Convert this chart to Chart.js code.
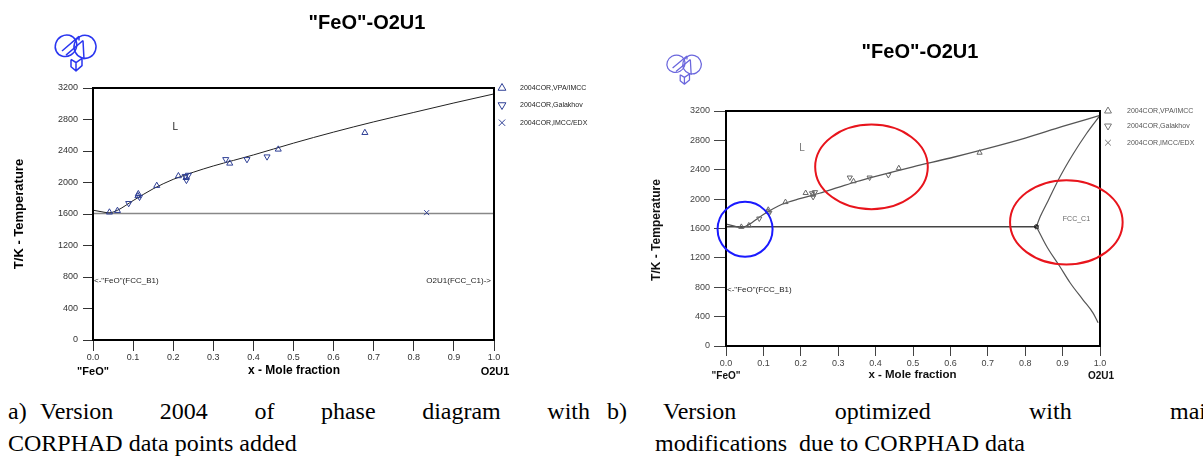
<!DOCTYPE html>
<html>
<head>
<meta charset="utf-8">
<script src="https://cdn.jsdelivr.net/npm/chart.js@4.4.1/dist/chart.umd.min.js"></script>
<style>
  html, body { margin: 0; padding: 0; background: #fff; }
  body { width: 1203px; height: 471px; position: relative; overflow: hidden; }
  canvas { position: absolute; top: 0; }
  #chartA { left: 0; }
  #chartB { left: 600px; }
  .cap {
    position: absolute;
    font-family: 'Liberation Serif', 'Times New Roman', serif;
    font-size: 24px;
    line-height: 32px;
    color: #000;
    white-space: nowrap;
  }
  .just { text-align: justify; text-align-last: justify; white-space: normal; }
</style>
</head>
<body>
<canvas id="chartA" width="600" height="392"></canvas>
<canvas id="chartB" width="603" height="392"></canvas>

<div class="cap" style="left:8px;top:395px">a)</div>
<div class="cap just" style="left:40px;top:395px;width:550px">Version 2004 of phase diagram with</div>
<div class="cap" style="left:8px;top:427px">CORPHAD data points added</div>
<div class="cap" style="left:607px;top:395px">b)</div>
<div class="cap just" style="left:663px;top:395px;width:555px">Version optimized with main</div>
<div class="cap" style="left:655px;top:427px">modifications&nbsp; due to CORPHAD data</div>

<script>
/* ===============================
   DATA
================================ */
const xTickVals = [0, 0.1, 0.2, 0.3, 0.4, 0.5, 0.6, 0.7, 0.8, 0.9, 1.0];
const yTickVals = [0, 400, 800, 1200, 1600, 2000, 2400, 2800, 3200];

const legendNames = ['2004COR,VPA/IMCC', '2004COR,Galakhov', '2004COR,IMCC/EDX'];

// experimental points (same in both versions)
const vpaX = [0.041, 0.061, 0.112, 0.113, 0.159, 0.213, 0.232, 0.341, 0.462, 0.678];
const vpaT = [1622, 1642, 1830, 1855, 1960, 2083, 2060, 2243, 2421, 2632];

const galX = [0.089, 0.116, 0.230, 0.233, 0.238, 0.331, 0.384, 0.434];
const galT = [1736, 1815, 2080, 2030, 2095, 2294, 2294, 2328];

const edxX = [0.832];
const edxT = [1617];

// a) 2004 calculated liquidus and horizontal invariant
const liqAX = [0, 0.02, 0.04, 0.06, 0.1, 0.15, 0.2, 0.25, 0.3, 0.35, 0.4, 0.5, 0.6, 0.7, 0.8, 0.9, 1.0];
const liqAT = [1648, 1630, 1615, 1645, 1770, 1920, 2040, 2130, 2210, 2280, 2350, 2500, 2640, 2770, 2890, 3010, 3125];
const invAX = [0, 1.0];
const invAT = [1605, 1605];

// b) optimized liquidus, invariant and FCC_C1 boundaries
const liqBX = [0, 0.02, 0.043, 0.06, 0.1, 0.15, 0.2, 0.25, 0.3, 0.35, 0.4, 0.5, 0.6, 0.7, 0.8, 0.9, 1.0];
const liqBT = [1660, 1635, 1612, 1650, 1790, 1930, 2010, 2080, 2160, 2240, 2310, 2440, 2560, 2690, 2830, 2990, 3140];
const invBX = [0, 0.83];
const invBT = [1625, 1625];
const fccUpX = [0.83, 0.840, 0.862, 0.893, 0.929, 0.964, 1.0];
const fccUpT = [1625, 1759, 1986, 2304, 2621, 2894, 3140];
const fccLoX = [0.83, 0.858, 0.893, 0.920, 0.955, 0.982, 0.995];
const fccLoT = [1625, 1351, 1079, 861, 626, 445, 317];

/* ===============================
   HELPERS
================================ */
const pts = (xs, ys) => xs.map((x, i) => ({ x: x, y: ys[i] }));

function drawLogo(ctx, x, y, w, h, color) {
    ctx.save();
    ctx.translate(x, y);
    ctx.scale(w / 45, h / 40);
    ctx.strokeStyle = color;
    ctx.lineWidth = 1.5;
    ctx.lineJoin = 'round';
    // left loop
    ctx.beginPath();
    ctx.ellipse(13, 15, 11, 10, -0.5, 0, Math.PI * 2);
    ctx.stroke();
    // right loop
    ctx.beginPath();
    ctx.ellipse(32, 16, 11, 11, 0.3, 0, Math.PI * 2);
    ctx.stroke();
    // diagonal band
    ctx.beginPath();
    ctx.moveTo(9, 20); ctx.lineTo(26, 6);
    ctx.moveTo(13, 24); ctx.lineTo(30, 10);
    ctx.moveTo(30, 10); ctx.lineTo(31, 28);
    ctx.moveTo(26, 6); ctx.lineTo(26, 10);
    ctx.stroke();
    // small box at the bottom
    ctx.beginPath();
    ctx.moveTo(18, 28); ctx.lineTo(18, 35); ctx.lineTo(23, 39); ctx.lineTo(29, 34);
    ctx.lineTo(29, 27); ctx.lineTo(23, 31); ctx.lineTo(18, 28);
    ctx.moveTo(23, 31); ctx.lineTo(23, 39);
    ctx.stroke();
    ctx.restore();
}

function text(ctx, str, x, y, font, color, align, rot) {
    ctx.save();
    ctx.font = font;
    ctx.fillStyle = color;
    ctx.textAlign = align || 'center';
    ctx.textBaseline = 'middle';
    ctx.translate(x, y);
    if (rot) ctx.rotate(rot);
    ctx.fillText(str, 0, 0);
    ctx.restore();
}

const decor = {
    id: 'decor',
    afterDraw(chart, args, g) {
        const ctx = chart.ctx;
        const a = chart.chartArea;
        const sx = chart.scales.x, sy = chart.scales.y;

        // frame
        ctx.save();
        ctx.strokeStyle = '#000';
        ctx.lineWidth = 2;
        ctx.strokeRect(a.left, a.top, a.right - a.left, a.bottom - a.top);
        ctx.restore();

        // legend
        const styles = [['triangle', 0], ['triangle', 180], ['crossRot', 0]];
        legendNames.forEach((name, i) => {
            const ly = a.top + g.legY[i];
            ctx.save();
            ctx.strokeStyle = g.legSymColor;
            ctx.fillStyle = 'rgba(0,0,0,0)';
            Chart.helpers.drawPoint(ctx, {
                pointStyle: styles[i][0], rotation: styles[i][1],
                radius: g.legSym, borderWidth: 1
            }, a.right + g.legX, ly);
            ctx.restore();
            text(ctx, name, a.right + g.legTextX, ly, g.legFont + 'px "Liberation Sans"', g.legColor, 'left');
        });

        // phase labels
        const sans = '"Liberation Sans", Arial, sans-serif';
        text(ctx, 'L', sx.getPixelForValue(g.lPos[0]), sy.getPixelForValue(g.lPos[1]), '10px ' + sans, g.labelColor);
        text(ctx, '<-"FeO"(FCC_B1)', a.left + 1, sy.getPixelForValue(g.b1T), '8px ' + sans, '#222', 'left');
        if (g.c1Right) {
            text(ctx, 'O2U1(FCC_C1)->', a.right - 3, sy.getPixelForValue(g.b1T), '8px ' + sans, '#222', 'right');
        }
        if (g.c1Pos) {
            text(ctx, 'FCC_C1', sx.getPixelForValue(g.c1Pos[0]), sy.getPixelForValue(g.c1Pos[1]), '7px ' + sans, '#666');
        }

        // titles
        const bold = 'bold ';
        text(ctx, '"FeO"-O2U1', g.title[0], g.title[1], bold + g.title[2] + 'px ' + sans, '#000');
        text(ctx, 'T/K - Temperature', g.yTitle[0], g.yTitle[1], bold + g.yTitle[2] + 'px ' + sans, g.axisTitleColor, 'center', -Math.PI / 2);
        text(ctx, 'x - Mole fraction', g.xTitle[0], g.xTitle[1], bold + g.xTitle[2] + 'px ' + sans, g.axisTitleColor);
        text(ctx, '"FeO"', a.left, g.endY, bold + g.endFont + 'px ' + sans, g.axisTitleColor);
        text(ctx, 'O2U1', a.right + 1, g.endY, bold + g.endFont + 'px ' + sans, g.axisTitleColor);

        drawLogo(ctx, g.logo[0], g.logo[1], g.logo[2], g.logo[3], g.logoColor);

        // highlighted zones
        (g.marks || []).forEach(m => {
            ctx.save();
            ctx.strokeStyle = m.color;
            ctx.lineWidth = 2;
            ctx.beginPath();
            ctx.ellipse(sx.getPixelForValue(m.x), sy.getPixelForValue(m.y), m.rx, m.ry, 0, 0, Math.PI * 2);
            ctx.stroke();
            ctx.restore();
        });
    }
};

function markerSets(g) {
    const base = {
        showLine: false, order: 0,
        borderColor: g.mkColor, backgroundColor: 'rgba(0,0,0,0)',
        pointBorderWidth: 1, pointRadius: g.mk
    };
    return [
        Object.assign({ label: legendNames[0], data: pts(vpaX, vpaT), pointStyle: 'triangle' }, base),
        Object.assign({ label: legendNames[1], data: pts(galX, galT), pointStyle: 'triangle', pointRotation: 180 }, base),
        Object.assign({ label: legendNames[2], data: pts(edxX, edxT), pointStyle: 'crossRot' }, base)
    ];
}

function lineSet(xs, ys, color, width, smooth) {
    return {
        data: pts(xs, ys), showLine: true, order: 1,
        borderColor: color, borderWidth: width,
        pointRadius: 0,
        cubicInterpolationMode: smooth ? 'monotone' : 'default'
    };
}

function phaseChart(id, g, lines) {
    const tickFont = { family: '"Liberation Sans", Arial, sans-serif', size: g.tickFont };
    return new Chart(document.getElementById(id), {
        type: 'scatter',
        data: { datasets: markerSets(g).concat(lines) },
        options: {
            responsive: false,
            animation: false,
            events: [],
            layout: {
                autoPadding: false,
                padding: { left: 0, top: g.top, right: g.w - g.right, bottom: 0 }
            },
            plugins: { legend: { display: false }, tooltip: { enabled: false }, decor: g },
            scales: {
                x: {
                    type: 'linear', min: 0, max: 1,
                    afterBuildTicks: s => { s.ticks = xTickVals.map(v => ({ value: v })); },
                    afterFit: s => { s.height = g.h - g.bottom; s.paddingLeft = 0; s.paddingRight = 0; },
                    grid: { drawOnChartArea: false, tickLength: g.xTickLen, tickColor: g.tickColor },
                    border: { display: false },
                    ticks: {
                        autoSkip: false, maxRotation: 0, padding: g.xPad,
                        color: g.tickLabelColor, font: tickFont,
                        callback: v => Number(v).toFixed(1)
                    }
                },
                y: {
                    type: 'linear', min: 0, max: 3200,
                    afterBuildTicks: s => { s.ticks = yTickVals.map(v => ({ value: v })); },
                    afterFit: s => { s.width = g.left; s.paddingTop = 0; s.paddingBottom = 0; },
                    grid: { drawOnChartArea: false, tickLength: g.yTickLen, tickColor: g.tickColor },
                    border: { display: false },
                    ticks: {
                        autoSkip: false, padding: g.yPad,
                        color: g.tickLabelColor, font: tickFont,
                        callback: v => String(v)
                    }
                }
            }
        },
        plugins: [decor]
    });
}

/* ===============================
   CHART A (2004)
================================ */
phaseChart('chartA', {
    w: 600, h: 392, left: 93, right: 494, top: 88, bottom: 340,
    yTickLen: 10, yPad: 5, xTickLen: 11, xPad: 1,
    tickFont: 9, tickColor: '#333', tickLabelColor: '#333',
    mk: 3.5, mkColor: '#2e3f95',
    legX: 8, legTextX: 26, legY: [0, 17, 34.7], legFont: 7, legSym: 4.5,
    legSymColor: '#2e3f95', legColor: '#222',
    labelColor: '#222', lPos: [0.205, 2696], b1T: 749, c1Right: true,
    title: [367, 23, 20], yTitle: [19, 214, 13], xTitle: [294, 371, 12],
    axisTitleColor: '#000', endY: 372, endFont: 11,
    logo: [53, 30, 45, 42], logoColor: '#2a36f0'
}, [
    lineSet(liqAX, liqAT, '#222', 1, true),
    lineSet(invAX, invAT, '#888', 1.5, false)
]);

/* ===============================
   CHART B (optimized)
================================ */
phaseChart('chartB', {
    w: 603, h: 392, left: 126, right: 500, top: 111, bottom: 346,
    yTickLen: 12, yPad: 4, xTickLen: 10, xPad: 2,
    tickFont: 9, tickColor: '#444', tickLabelColor: '#444',
    mk: 3, mkColor: '#666',
    legX: 8, legTextX: 27, legY: [0, 15, 31.7], legFont: 7, legSym: 4,
    legSymColor: '#777', legColor: '#555',
    labelColor: '#777', lPos: [0.203, 2698], b1T: 762, c1Pos: [0.937, 1728],
    title: [320, 52, 20], yTitle: [56.7, 230, 12], xTitle: [312.5, 375, 11.5],
    axisTitleColor: '#111', endY: 376.5, endFont: 10,
    logo: [65, 51, 38, 34], logoColor: '#6a66dd',
    marks: [
        { x: 0.051, y: 1589, rx: 27.5, ry: 27.5, color: '#1a1aff' },
        { x: 0.389, y: 2439, rx: 56.3, ry: 42.3, color: '#e8141c' },
        { x: 0.91, y: 1684, rx: 56.3, ry: 42.2, color: '#e8141c' }
    ]
}, [
    lineSet(liqBX, liqBT, '#555', 1.3, true),
    lineSet(invBX, invBT, '#444', 1.5, false),
    lineSet(fccUpX, fccUpT, '#555', 1.2, true),
    lineSet(fccLoX, fccLoT, '#555', 1.2, true),
    { data: pts([invBX[1]], [invBT[1]]), showLine: false, order: 0, pointRadius: 2,
      backgroundColor: '#222', borderColor: '#222' }
]);
</script>
</body>
</html>
